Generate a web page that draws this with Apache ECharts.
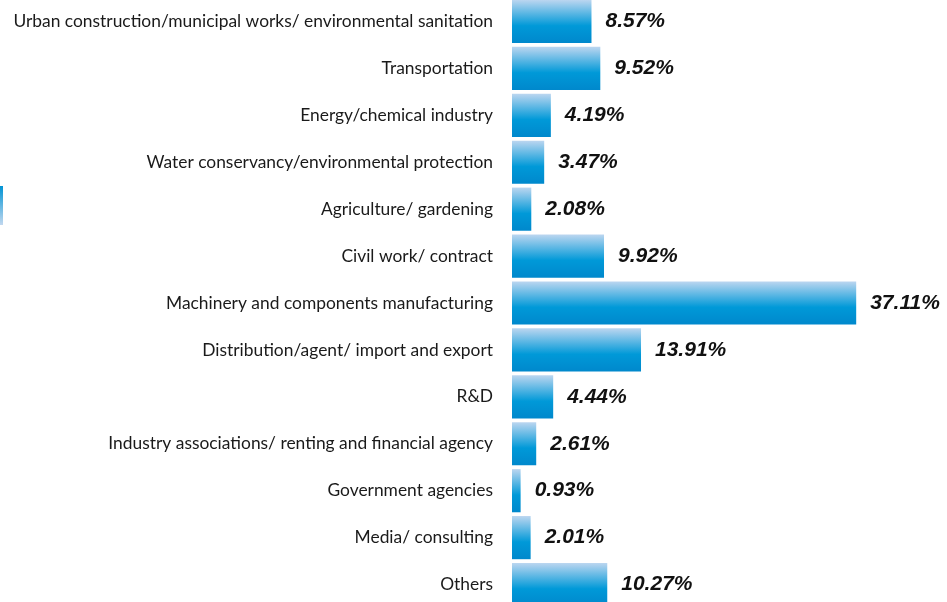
<!DOCTYPE html>
<html>
<head>
<meta charset="utf-8">
<script src="https://cdn.jsdelivr.net/npm/echarts@6/dist/echarts.min.js"></script>
<style>
  html, body { margin: 0; padding: 0; background: #fff; }
  #chart { width: 947px; height: 602px; }
</style>
</head>
<body>
<div id="chart"></div>
<script>
const categories = [
  'Urban construction/municipal works/ environmental sanitation',
  'Transportation',
  'Energy/chemical industry',
  'Water conservancy/environmental protection',
  'Agriculture/ gardening',
  'Civil work/ contract',
  'Machinery and components manufacturing',
  'Distribution/agent/ import and export',
  'R&D',
  'Industry associations/ renting and financial agency',
  'Government agencies',
  'Media/ consulting',
  'Others'
];
const shares = [8.57, 9.52, 4.19, 3.47, 2.08, 9.92, 37.11, 13.91, 4.44, 2.61, 0.93, 2.01, 10.27];

const chart = echarts.init(document.getElementById('chart'));

// 柱子渐变：上浅下深
const barGradient = new echarts.graphic.LinearGradient(0, 0, 0, 1, [
  { offset: 0, color: '#bcd6f0' },
  { offset: 0.6, color: '#0099d8' },
  { offset: 1, color: '#0088cc' }
]);

const option = {
  backgroundColor: '#fff',
  animation: false,
  grid: {
    left: 512, width: 371, top: -2, bottom: -6,
    containLabel: false,
    outerBoundsMode: 'none'
  },
  xAxis: {
    type: 'value',
    min: 0,
    max: 40,
    show: false
  },
  yAxis: {
    type: 'category',
    inverse: true,
    data: categories,
    axisLine: { show: false },
    axisTick: { show: false },
    axisLabel: {
      margin: 19,
      color: '#1a1a1a',
      fontFamily: 'Lato',
      fontSize: 17.4,
      padding: [0, 0, 8, 0]
    }
  },
  series: [{
    type: 'bar',
    data: shares,
    barCategoryGap: '8%',
    itemStyle: { color: barGradient },
    label: {
      show: true,
      position: 'right',
      distance: 14,
      formatter: p => p.value.toFixed(2) + '%',
      color: '#111',
      fontFamily: 'Liberation Sans',
      fontWeight: 'bold',
      fontStyle: 'italic',
      fontSize: 21
    }
  }],
  graphic: [{
    type: 'rect',
    left: 0,
    top: 186,
    shape: { width: 3, height: 39 },
    style: {
      fill: new echarts.graphic.LinearGradient(0, 0, 0, 1, [
        { offset: 0, color: '#0093d4' },
        { offset: 1, color: '#c2d8ef' }
      ])
    }
  }]
};

chart.setOption(option);
window.addEventListener('resize', () => chart.resize(), false);
</script>
</body>
</html>
